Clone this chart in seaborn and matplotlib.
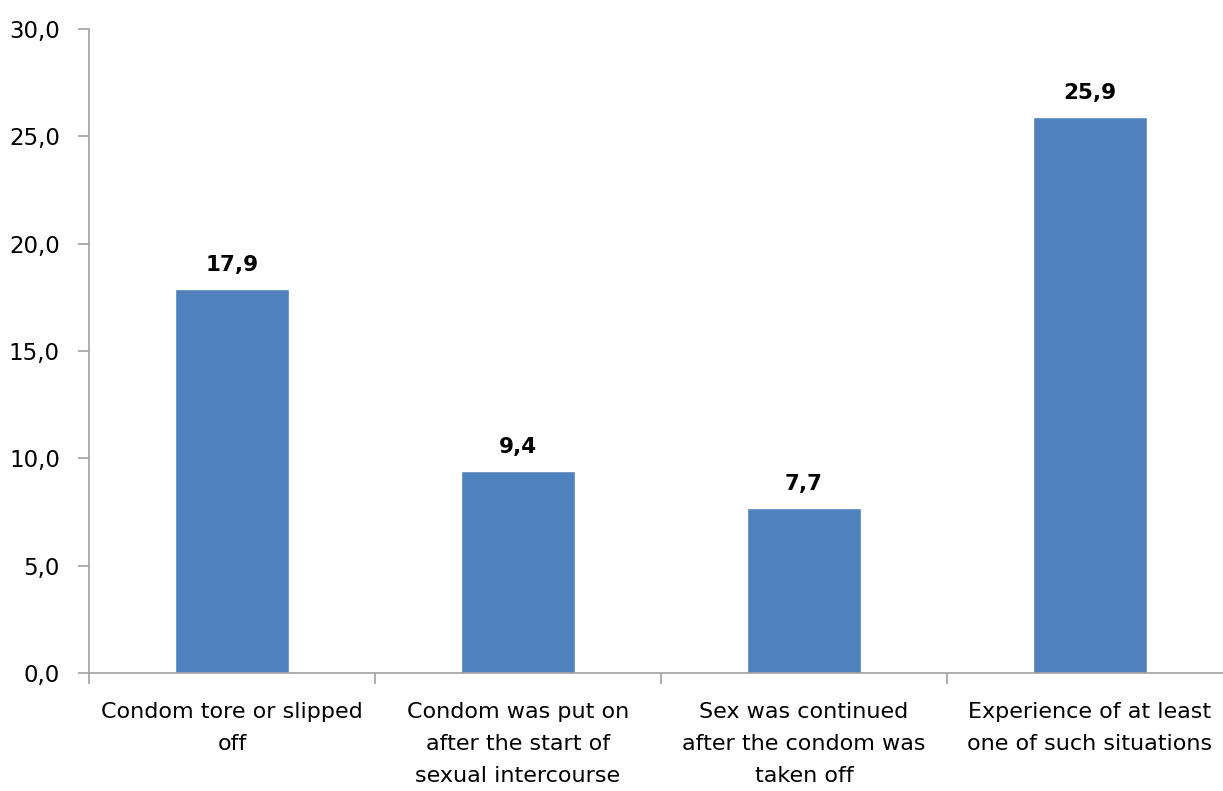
import numpy as np
import pandas as pd
import matplotlib
matplotlib.use("Agg")
import matplotlib.pyplot as plt
import seaborn as sns

categories = [
    "Condom tore or slipped\noff",
    "Condom was put on\nafter the start of\nsexual intercourse",
    "Sex was continued\nafter the condom was\ntaken off",
    "Experience of at least\none of such situations",
]
values = [17.9, 9.4, 7.7, 25.9]
y_ticks = [0, 5, 10, 15, 20, 25, 30]

sns.set_style("white")
plt.rcParams["font.family"] = ["DejaVu Sans"]

W, H = 1223, 791
fig = plt.figure(figsize=(W / 100, H / 100), dpi=100)
ax = fig.add_axes([89 / W, (H - 673) / H, 1144 / W, 644 / H])

df = pd.DataFrame({"cat": categories, "val": values})
sns.barplot(data=df, x="cat", y="val", color="#4F81BD", width=0.4,
            saturation=1, ax=ax)

ax.set_xlim(-0.5, 3.5)
ax.set_ylim(0, 30)
ax.set_yticks(y_ticks)
ax.set_yticklabels([f"{v:.1f}".replace(".", ",") for v in y_ticks],
                   fontsize=16.5, color="black")
ax.set_xlabel("")
ax.set_ylabel("")

# category boundaries carry the tick marks; labels sit at bar centres
ax.set_xticks(np.arange(len(categories)))
ax.set_xticklabels(categories, fontsize=16, linespacing=1.75, color="black")
ax.set_xticks(np.arange(-0.5, len(categories)), minor=True)
ax.tick_params(axis="x", which="major", length=0, pad=21)
ax.tick_params(axis="x", which="minor", length=8, color="#A0A0A0", width=1.2,
               direction="out", bottom=True)
ax.tick_params(axis="y", length=8, color="#A0A0A0", width=1.2, direction="out",
               left=True, pad=13)

for s in ["top", "right"]:
    ax.spines[s].set_visible(False)
for s in ["left", "bottom"]:
    ax.spines[s].set_color("#A0A0A0")
    ax.spines[s].set_linewidth(1.2)

for i, v in enumerate(values):
    ax.text(i, v + 0.65, f"{v:.1f}".replace(".", ","), ha="center", va="bottom",
            fontsize=15.5, fontweight="bold", color="black")

fig.savefig("out.png", dpi=100)
